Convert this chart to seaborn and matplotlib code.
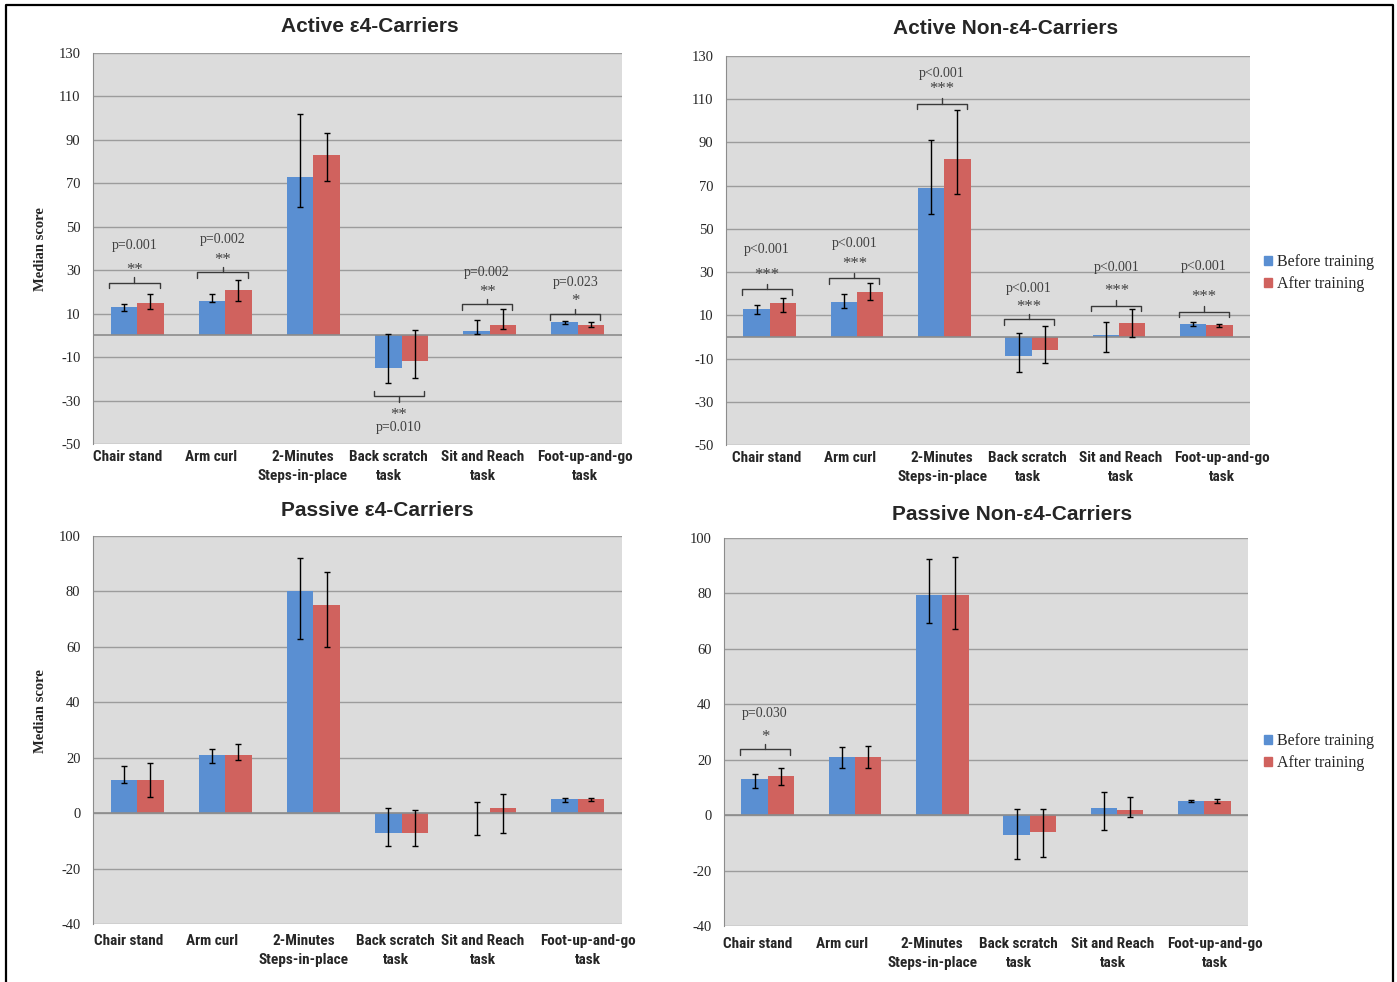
import numpy as np
import pandas as pd
import matplotlib
matplotlib.use("Agg")
import matplotlib.pyplot as plt
import matplotlib.transforms as mtrans
import seaborn as sns
from matplotlib.lines import Line2D
from matplotlib import font_manager

# categories and groups
tasks = ["Chair stand", "Arm curl", "2-Minutes\nSteps-in-place", "Back scratch\ntask",
         "Sit and Reach\ntask", "Foot-up-and-go\ntask"]
groups = ["Before training", "After training"]

# Active e4-carriers (median, lower / upper end of error bar)
ae4_before = [13, 16, 73, -15, 2, 6]
ae4_before_lo = [11, 15.5, 59, -22, 0.5, 5.2]
ae4_before_hi = [14.5, 19, 102, 0.5, 7, 6.4]
ae4_after = [15, 21, 83, -12, 5, 5]
ae4_after_lo = [12, 16, 71, -19.5, 3, 4]
ae4_after_hi = [19, 25.5, 93, 2.5, 12, 6]

# Active non-e4-carriers
ane4_before = [13, 16, 69, -9, 1, 6]
ane4_before_lo = [10.7, 13.3, 57, -16, -7, 5.1]
ane4_before_hi = [15, 20, 91, 2, 7, 7]
ane4_after = [15.5, 21, 82.5, -6, 6.5, 5.5]
ane4_after_lo = [11.7, 17, 66, -12.2, 0, 4.6]
ane4_after_hi = [18, 25, 105, 5, 13, 6.2]

# Passive e4-carriers
pe4_before = [12, 21, 80, -7, 0, 5]
pe4_before_lo = [11, 18, 63, -12, -8, 4]
pe4_before_hi = [17, 23, 92, 2, 4, 5.6]
pe4_after = [12, 21, 75, -7, 2, 5]
pe4_after_lo = [6, 19, 60, -12, -7, 4.4]
pe4_after_hi = [18, 25, 87, 1, 7, 5.6]

# Passive non-e4-carriers
pne4_before = [13, 21, 79.5, -7, 2.5, 5]
pne4_before_lo = [9.7, 17, 69.5, -15.7, -5.2, 4.7]
pne4_before_hi = [15, 24.5, 92.5, 2.2, 8.2, 5.4]
pne4_after = [14, 21, 79.5, -6, 1.8, 5]
pne4_after_lo = [10.7, 17, 67, -15, -0.5, 4.3]
pne4_after_hi = [17, 25, 93, 2.2, 6.4, 5.8]

# significance notes: (task index, bracket y, stars, stars y, p text, p y, direction)
ae4_notes = [(0, 24.3, "**", 32, "p=0.001", 41.6, 1),
             (1, 29, "**", 36.6, "p=0.002", 44, 1),
             (3, -28, "**", -35, "p=0.010", -42.4, -1),
             (4, 14.3, "**", 22, "p=0.002", 29, 1),
             (5, 9.8, "*", 17.5, "p=0.023", 24.3, 1)]
ane4_notes = [(0, 22.1, "***", 30.6, "p<0.001", 40.6, 1),
              (1, 27.2, "***", 35.7, "p<0.001", 43.1, 1),
              (2, 108, "***", 116.4, "p<0.001", 121.8, 1),
              (3, 8.2, "***", 15.6, "p<0.001", 22.6, 1),
              (4, 14.5, "***", 23, "p<0.001", 32.3, 1),
              (5, 11.7, "***", 20.2, "p<0.001", 32.6, 1)]
pe4_notes = []
pne4_notes = [(0, 23.7, "*", 29.8, "p=0.030", 36.8, 1)]

sns.set_style("white")
plt.rcParams["font.family"] = ["Liberation Serif", "DejaVu Serif"]
plt.rcParams["axes.unicode_minus"] = False

# find a condensed sans for the category labels, if one is installed
installed = {f.name for f in font_manager.fontManager.ttflist}
narrow_name = None
for cand in ["Liberation Sans Narrow", "Roboto Condensed", "Open Sans Condensed",
             "Noto Sans Condensed", "DejaVu Sans Condensed", "Arial Narrow"]:
    if cand in installed:
        narrow_name = cand
        break
if narrow_name is None:
    narrow_font = dict(family=["Liberation Sans", "DejaVu Sans"], size=9.2)
else:
    narrow_font = dict(family=[narrow_name, "Liberation Sans"], size=11)

W, H = 1397, 982
fig = plt.figure(figsize=(W / 100, H / 100), dpi=100)
blue, red = "#5a8fd2", "#d0625e"
serif = ["Liberation Serif", "DejaVu Serif"]


def px_axes(l, t, r, b):
    return fig.add_axes([l / W, 1 - b / H, (r - l) / W, (b - t) / H])


def draw_panel(ax, before, b_lo, b_hi, after, a_lo, a_hi, ylim, step, notes,
               shifts, xpad):
    df = pd.DataFrame({
        "task": tasks * 2,
        "time": [groups[0]] * len(tasks) + [groups[1]] * len(tasks),
        "value": before + after,
    })
    sns.barplot(data=df, x="task", y="value", hue="time", hue_order=groups,
                palette=[blue, red], width=0.6, errorbar=None, saturation=1,
                linewidth=0, ax=ax, legend=False)
    ax.set_facecolor("#dcdcdc")
    ax.set_ylim(*ylim)
    ax.set_yticks(np.arange(ylim[0], ylim[1] + 1, step))
    ax.yaxis.grid(True, color="#9c9c9c", lw=1)
    ax.set_axisbelow(True)
    ax.axhline(0, color="#8c8c8c", lw=1.2, zorder=1.5)
    for s in ["top", "right", "bottom"]:
        ax.spines[s].set_visible(False)
    ax.spines["left"].set_color("#8c8c8c")
    ax.tick_params(axis="y", length=4, color="#8c8c8c", pad=5, labelsize=10.5,
                   labelcolor="#262626")
    ax.tick_params(axis="x", length=0, pad=xpad)
    for lab, dx in zip(ax.get_xticklabels(), shifts):
        lab.set_family(narrow_font["family"])
        lab.set_weight("bold")
        lab.set_fontsize(narrow_font["size"])
        lab.set_linespacing(1.45)
        lab.set_transform(lab.get_transform() +
                          mtrans.ScaledTranslation(dx / 100, 0, fig.dpi_scale_trans))
    for lab in ax.get_yticklabels():
        lab.set_family(serif)
    ax.set_xlabel("")
    ax.set_ylabel("")

    bw = ax.containers[0][0].get_width()
    for cont, vals, lo, hi in [(ax.containers[0], before, b_lo, b_hi),
                               (ax.containers[1], after, a_lo, a_hi)]:
        xs = [p.get_x() + p.get_width() / 2 for p in cont]
        v = np.array(vals, float)
        err = [v - np.array(lo, float), np.array(hi, float) - v]
        ax.errorbar(xs, v, yerr=err, fmt="none", ecolor="black", elinewidth=1,
                    capsize=2.2, capthick=1, zorder=4)

    hook = 0.014 * (ylim[1] - ylim[0])
    for idx, by, stars, sy, ptxt, py, d in notes:
        x0 = ax.containers[0][idx].get_x() - 0.05 * bw
        x1 = ax.containers[1][idx].get_x() + 0.85 * bw
        ax.plot([x0, x0, x1, x1], [by - d * hook, by, by, by - d * hook],
                color="#3a3a3a", lw=1, zorder=5)
        xm = (x0 + x1) / 2
        ax.plot([xm, xm], [by, by + d * hook], color="#3a3a3a", lw=1, zorder=5)
        ax.annotate(stars, (xm, sy), xytext=(0, -4), textcoords="offset pixels",
                    ha="center", va="center", fontsize=12, color="#404040",
                    family=serif)
        ax.text(xm, py, ptxt, ha="center", va="center", fontsize=10,
                color="#404040", family=serif)
    ax.set_xlim(-0.5, len(tasks) - 0.5)


ax1 = px_axes(93, 53, 622, 444)
draw_panel(ax1, ae4_before, ae4_before_lo, ae4_before_hi,
           ae4_after, ae4_after_lo, ae4_after_hi, (-50, 130), 20, ae4_notes,
           [-9, -14, -11, -13, -7, 7], 4)
ax2 = px_axes(726, 56, 1250, 445)
draw_panel(ax2, ane4_before, ane4_before_lo, ane4_before_hi,
           ane4_after, ane4_after_lo, ane4_after_hi, (-50, 130), 20, ane4_notes,
           [-3, -7, -2, -4, 2, 16], 4.5)
ax3 = px_axes(93, 536, 622, 924)
draw_panel(ax3, pe4_before, pe4_before_lo, pe4_before_hi,
           pe4_after, pe4_after_lo, pe4_after_hi, (-40, 100), 20, pe4_notes,
           [-8, -13, -10, -6, -7, 10], 7.5)
ax4 = px_axes(724, 538, 1248, 926)
draw_panel(ax4, pne4_before, pne4_before_lo, pne4_before_hi,
           pne4_after, pne4_after_lo, pne4_after_hi, (-40, 100), 20, pne4_notes,
           [-10, -13, -10, -11, -4, 11], 8)

# titles
title_kw = dict(ha="center", va="center", fontsize=15, weight="bold",
                family=["Liberation Sans", "DejaVu Sans"])
fig.text(370 / W, 1 - 27 / H, "Active \u03b54-Carriers", **title_kw)
fig.text(1006 / W, 1 - 29 / H, "Active Non-\u03b54-Carriers", **title_kw)
fig.text(377 / W, 1 - 510 / H, "Passive \u03b54-Carriers", **title_kw)
fig.text(1012 / W, 1 - 515 / H, "Passive Non-\u03b54-Carriers", **title_kw)

# y labels
for yc in [249, 711]:
    fig.text(41 / W, 1 - yc / H, "Median score", rotation=90, ha="center",
             va="center", fontsize=10.5, weight="bold", family=serif)

# legends
handles = [plt.Rectangle((0, 0), 1, 1, color=blue), plt.Rectangle((0, 0), 1, 1, color=red)]
for yc in [273, 752]:
    fig.legend(handles, groups, loc="center left",
               bbox_to_anchor=(1264 / W, 1 - yc / H), frameon=False,
               handlelength=0.5, handleheight=0.5, handletextpad=0.3,
               borderpad=0, borderaxespad=0, labelspacing=0.4,
               prop={"family": serif, "size": 11.5})

# outer frame
fig.add_artist(Line2D([6 / W, 6 / W, 1393 / W, 1393 / W],
                      [0, 1 - 5 / H, 1 - 5 / H, 0], color="black", lw=1.6,
                      transform=fig.transFigure))

fig.savefig("out.png", dpi=100, facecolor="white")
